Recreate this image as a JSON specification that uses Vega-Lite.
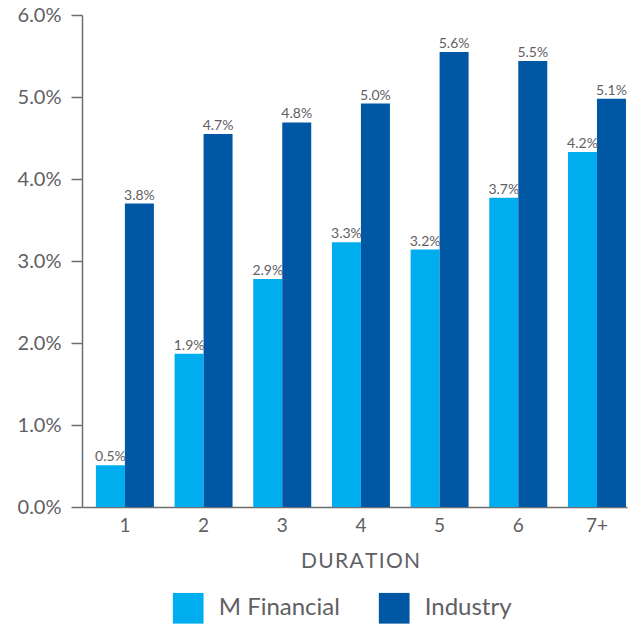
{
  "$schema": "https://vega.github.io/schema/vega-lite/v6.json",
  "width": 545,
  "height": 492,
  "autosize": {"type": "none"},
  "padding": {"left": 82, "top": 15, "right": 5, "bottom": 117},
  "config": {"view": {"stroke": null}, "font": "Lato", "background": "white"},
  "data": {
    "values": [
      {"duration": "1", "series": "M Financial", "value": 0.0051, "label": "0.5%"},
      {"duration": "2", "series": "M Financial", "value": 0.0187, "label": "1.9%"},
      {"duration": "3", "series": "M Financial", "value": 0.0278, "label": "2.9%"},
      {"duration": "4", "series": "M Financial", "value": 0.0323, "label": "3.3%"},
      {"duration": "5", "series": "M Financial", "value": 0.0314, "label": "3.2%"},
      {"duration": "6", "series": "M Financial", "value": 0.0377, "label": "3.7%"},
      {"duration": "7+", "series": "M Financial", "value": 0.0433, "label": "4.2%"},
      {"duration": "1", "series": "Industry", "value": 0.0370, "label": "3.8%"},
      {"duration": "2", "series": "Industry", "value": 0.0455, "label": "4.7%"},
      {"duration": "3", "series": "Industry", "value": 0.0469, "label": "4.8%"},
      {"duration": "4", "series": "Industry", "value": 0.0492, "label": "5.0%"},
      {"duration": "5", "series": "Industry", "value": 0.0555, "label": "5.6%"},
      {"duration": "6", "series": "Industry", "value": 0.0544, "label": "5.5%"},
      {"duration": "7+", "series": "Industry", "value": 0.0498, "label": "5.1%"}
    ]
  },
  "encoding": {
    "x": {
      "field": "duration",
      "type": "nominal",
      "sort": ["1", "2", "3", "4", "5", "6", "7+"],
      "scale": {"paddingInner": 0.263, "paddingOuter": 0.095, "align": 0.93},
      "axis": {
        "title": "D\u200aU\u200aR\u200aA\u200aT\u200aI\u200aO\u200aN",
        "titleFontSize": 21,
        "titleFontWeight": "normal",
        "titleColor": "#5f6063",
        "titlePadding": 15,
        "titleX": 278,
        "titleAlign": "center",
        "labelAngle": 0,
        "labelFontSize": 19,
        "labelColor": "#5f6063",
        "labelPadding": 9,
        "ticks": false,
        "domainColor": "#6d6e71",
        "domainWidth": 1.5
      }
    },
    "xOffset": {
      "field": "series",
      "type": "nominal",
      "sort": ["M Financial", "Industry"],
      "scale": {"paddingInner": 0, "paddingOuter": 0}
    },
    "y": {
      "field": "value",
      "type": "quantitative",
      "scale": {"domain": [0, 0.06], "nice": false},
      "axis": {
        "title": null,
        "values": [0, 0.01, 0.02, 0.03, 0.04, 0.05, 0.06],
        "format": ".1%",
        "grid": false,
        "labelFontSize": 20,
        "labelColor": "#5f6063",
        "labelPadding": 10,
        "tickSize": 11,
        "tickColor": "#6d6e71",
        "tickWidth": 1.5,
        "domainColor": "#6d6e71",
        "domainWidth": 1.5
      }
    }
  },
  "layer": [
    {
      "mark": {"type": "bar"},
      "encoding": {
        "color": {
          "field": "series",
          "type": "nominal",
          "sort": ["M Financial", "Industry"],
          "scale": {"domain": ["M Financial", "Industry"], "range": ["#00aeef", "#0057a4"]},
          "legend": {
            "title": null,
            "orient": "none",
            "legendX": 90.7,
            "legendY": 577.7,
            "direction": "horizontal",
            "symbolType": "square",
            "symbolSize": 943,
            "symbolStrokeWidth": 0,
            "symbolOpacity": 1,
            "labelFontSize": 24,
            "labelColor": "#5f6063",
            "labelOffset": 15,
            "columnPadding": 38,
            "padding": 0,
            "offset": 0
          }
        }
      }
    },
    {
      "mark": {"type": "text", "baseline": "alphabetic", "dy": -4, "fontSize": 14, "color": "#5f6063"},
      "encoding": {"text": {"field": "label"}}
    }
  ]
}
